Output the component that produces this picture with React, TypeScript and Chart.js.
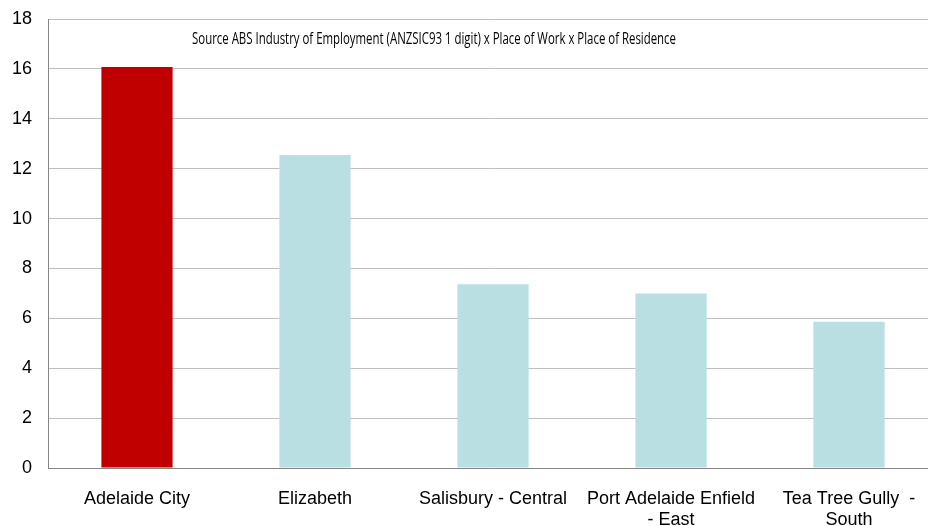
import React, { useEffect, useRef } from "react";
import { Chart, registerables } from "chart.js";

Chart.register(...registerables);

const categories: (string | string[])[] = [
  "Adelaide City",
  "Elizabeth",
  "Salisbury - Central",
  ["Port Adelaide Enfield", "- East"],
  ["Tea Tree Gully  -", "South"],
];
const values = [16.08, 12.55, 7.37, 7.0, 5.86];
const barColors = ["#C00000", "#B9DFE2", "#B9DFE2", "#B9DFE2", "#B9DFE2"];
const yTicks = [0, 2, 4, 6, 8, 10, 12, 14, 16, 18];
const sourceNote =
  "Source ABS Industry of Employment (ANZSIC93 1 digit) x Place of Work x Place of Residence";

const notePlugin = {
  id: "sourceNote",
  afterDatasetsDraw(chart: any) {
    const { ctx, chartArea } = chart;
    ctx.save();
    ctx.font = '16px "Open Sans", sans-serif';
    ctx.fillStyle = "#000000";
    ctx.textAlign = "left";
    ctx.textBaseline = "middle";
    const w = ctx.measureText(sourceNote).width;
    const sx = 484 / w;
    ctx.translate(chartArea.left + 144, chartArea.top + 20);
    ctx.scale(sx, 1);
    ctx.fillText(sourceNote, 0, 0);
    ctx.restore();
  },
};

export default function App() {
  const ref = useRef<HTMLCanvasElement | null>(null);
  useEffect(() => {
    document.body.style.margin = "0";
    const chart = new Chart(ref.current as HTMLCanvasElement, {
      type: "bar",
      data: {
        labels: categories,
        datasets: [
          {
            data: values,
            backgroundColor: barColors,
            borderWidth: 0,
            barPercentage: 0.4,
            categoryPercentage: 1,
          },
        ],
      },
      options: {
        animation: false,
        responsive: false,
        maintainAspectRatio: false,
        layout: { padding: { top: 19, right: 0, left: 0, bottom: 0 } },
        plugins: {
          legend: { display: false },
          tooltip: { enabled: false },
          title: { display: false },
        },
        scales: {
          x: {
            grid: { display: false, drawTicks: false },
            border: { display: true, color: "#868686", width: 1 },
            ticks: {
              color: "#000000",
              font: { family: '"Liberation Sans", Arial, sans-serif', size: 18 },
              padding: 20,
              maxRotation: 0,
              autoSkip: false,
            },
            afterFit: (s: any) => {
              s.height = 58;
              s.paddingLeft = 0;
              s.paddingRight = 0;
            },
          },
          y: {
            min: 0,
            max: 18,
            afterBuildTicks: (s: any) => {
              s.ticks = yTicks.map((v) => ({ value: v }));
            },
            grid: { color: "#BFBFBF", lineWidth: 1, drawTicks: false },
            border: { display: true, color: "#868686", width: 1 },
            ticks: {
              color: "#000000",
              font: { family: '"Liberation Sans", Arial, sans-serif', size: 18 },
              padding: 16,
            },
            afterFit: (s: any) => {
              s.width = 48;
              s.paddingTop = 0;
              s.paddingBottom = 0;
            },
          },
        },
      },
      plugins: [notePlugin],
    });
    return () => chart.destroy();
  }, []);
  return (
    <div style={{ width: 928, height: 526, overflow: "hidden" }}>
      <canvas ref={ref} width={938} height={526} style={{ display: "block" }} />
    </div>
  );
}
